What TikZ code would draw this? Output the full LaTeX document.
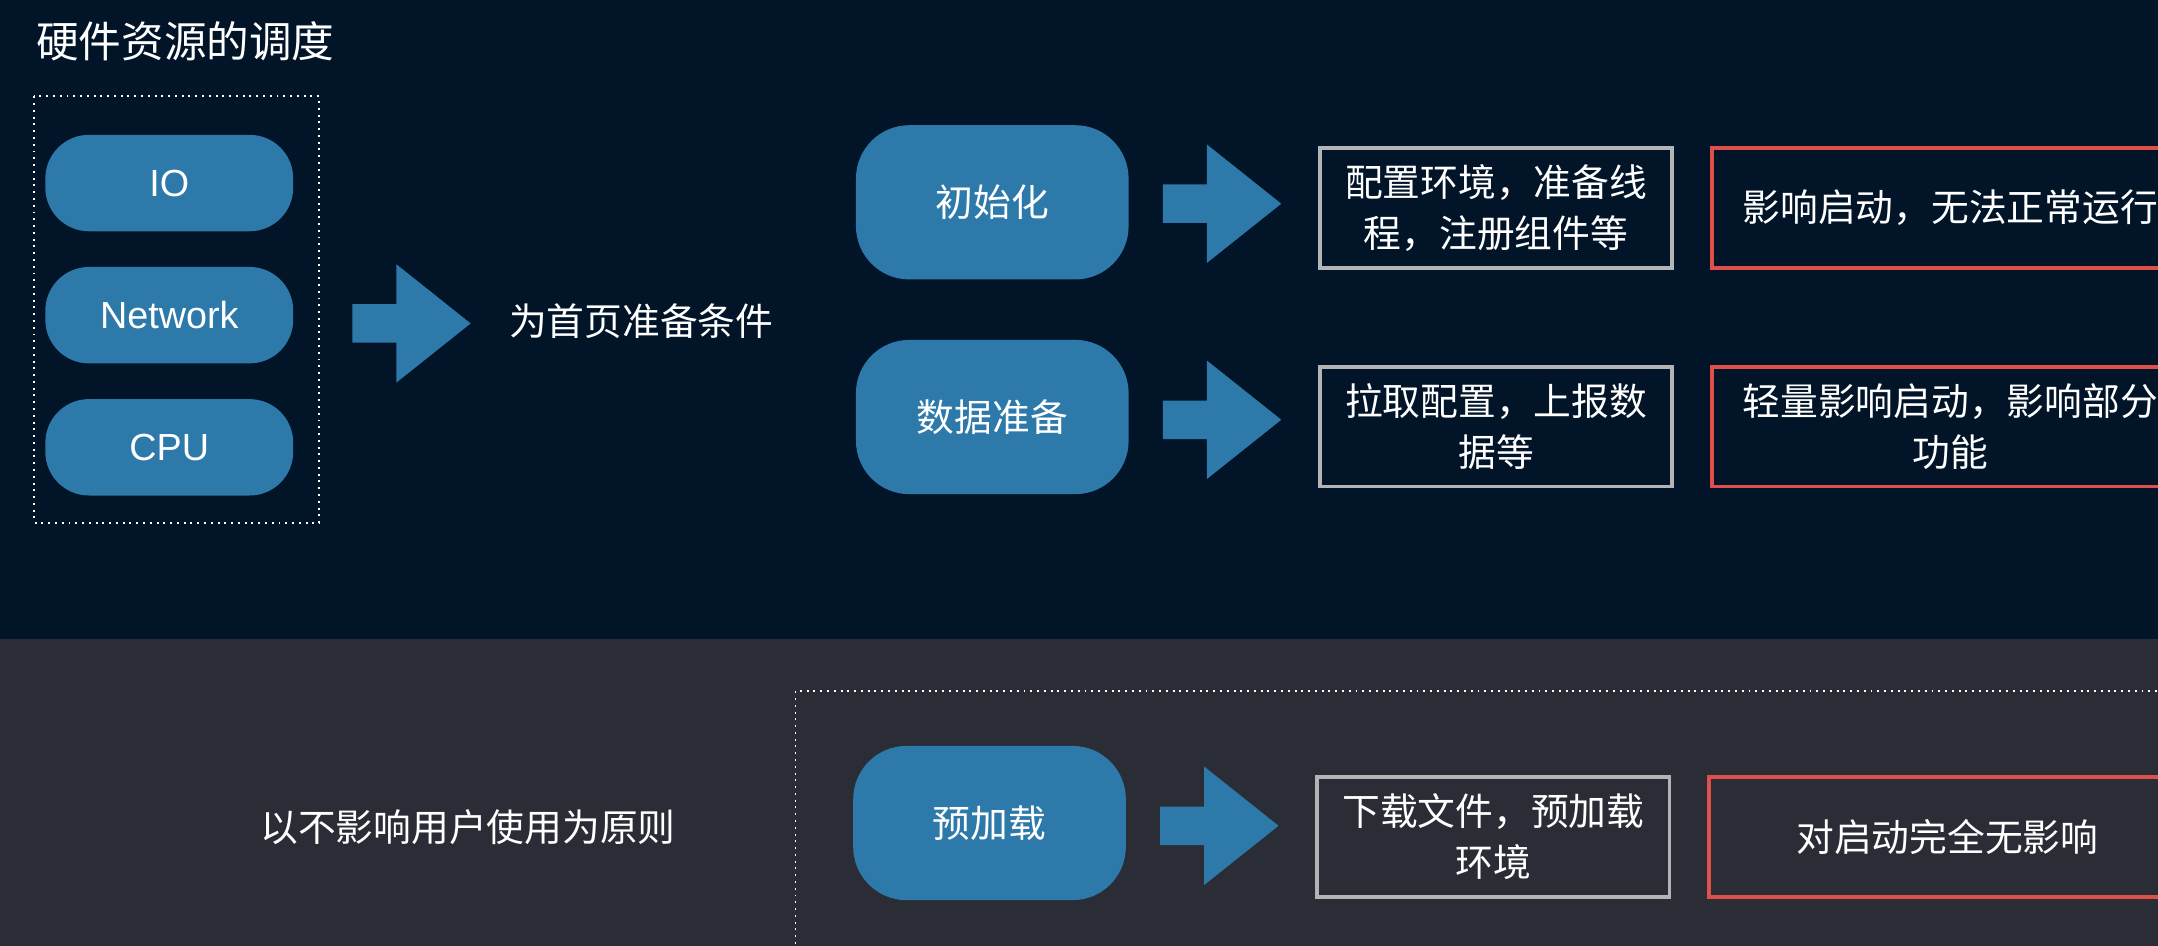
\documentclass[tikz,border=0pt]{standalone}
\usepackage{fontspec}
\setmainfont{Noto Sans CJK SC}
\setsansfont{Liberation Sans}
\usetikzlibrary{positioning}
\definecolor{topbg}{HTML}{011428}
\definecolor{botbg}{HTML}{2A2D35}
\definecolor{boxblue}{HTML}{2D79A9}
\definecolor{redline}{HTML}{E0504A}
\definecolor{grayline}{HTML}{B4B4B4}
\newcommand{\bigarrow}[1]{%
  \fill[boxblue] (#1) ++(0,-14) -- ++(32,0) -- ++(0,-29) -- ++(54,43)
    -- ++(-54,43) -- ++(0,-29) -- ++(-32,0) -- cycle;}

\begin{document}
\begin{tikzpicture}[x=0.01cm, y=-0.01cm, font=\fontsize{7.8pt}{10.5pt}\selectfont, text=white,
  hwbox/.style={fill=boxblue, rounded corners=9pt, minimum width=1.8cm, minimum height=0.7cm, font=\sffamily\fontsize{7.8pt}{10pt}\selectfont},
  stagebox/.style={fill=boxblue, rounded corners=11pt, minimum width=1.98cm, minimum height=1.12cm},
  descbox/.style={draw=grayline, line width=0.8pt, minimum width=2.56cm, minimum height=0.87cm, align=center},
  effectbox/.style={draw=redline, line width=0.8pt, minimum width=3.46cm, minimum height=0.87cm, align=center}]
  \useasboundingbox (0,0) rectangle (1568,687);
  \clip (0,0) rectangle (1568,687);
  \fill[topbg] (0,0) rectangle (1568,464);
  \fill[botbg] (0,464) rectangle (1568,687);

  \node[anchor=west, font=\fontsize{8.8pt}{10pt}\selectfont] (title) at (14,30) {硬件资源的调度};
  \draw[white, densely dotted] (25,70) rectangle (232,380);
  \node[hwbox] (io) at (123,133) {IO};
  \node[hwbox] (net) at (123,229) {Network};
  \node[hwbox] (cpu) at (123,325) {CPU};

  \bigarrow{256,235}
  \node (prep) at (466,233) {为首页准备条件};

  \node[stagebox] (init) at (721,147) {初始化};
  \bigarrow{845,148}
  \node[descbox] (initdesc) at (1087,151) {配置环境，准备线\\程，注册组件等};
  \node[effectbox] (initeff) at (1417,151) {影响启动，无法正常运行};

  \node[stagebox] (data) at (721,303) {数据准备};
  \bigarrow{845,305}
  \node[descbox] (datadesc) at (1087,310) {拉取配置，上报数\\据等};
  \node[effectbox] (dataeff) at (1417,310) {轻量影响启动，影响部分\\功能};

  \node (rule) at (340,601) {以不影响用户使用为原则};
  \draw[white, densely dotted] (578,740) -- (578,502) -- (1600,502);
  \node[stagebox] (preload) at (719,598) {预加载};
  \bigarrow{843,600}
  \node[descbox] (preloaddesc) at (1085,608) {下载文件，预加载\\环境};
  \node[effectbox] (preloadeff) at (1415,608) {对启动完全无影响};
\end{tikzpicture}
\end{document}
